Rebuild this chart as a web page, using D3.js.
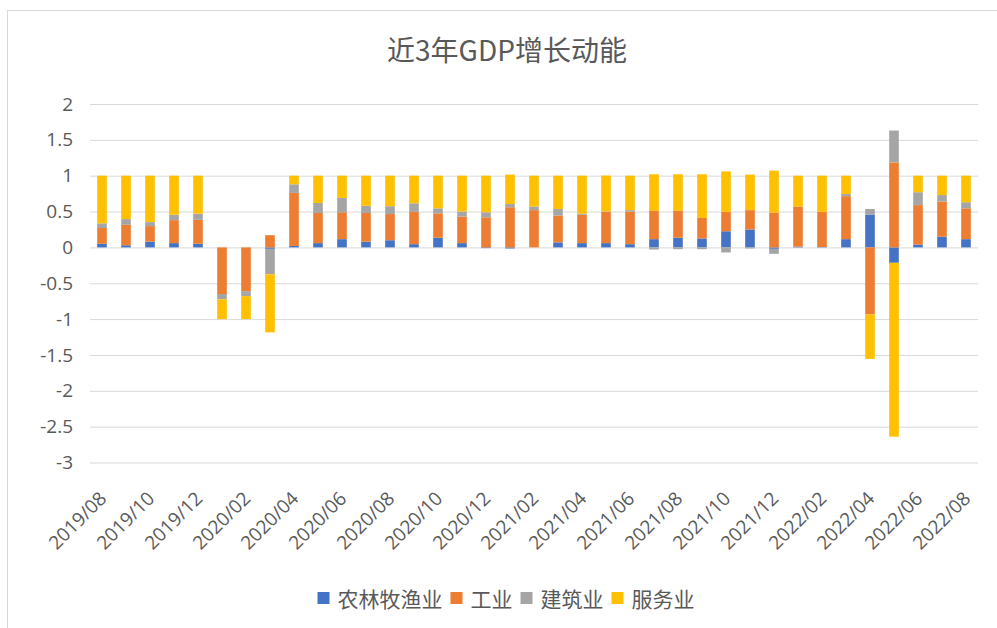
<html>
<head>
<meta charset="utf-8">
<style>
    body { margin: 0; background: #fff; }
    svg { display: block; }
</style>
</head>
<body>
<script src="https://d3js.org/d3.v7.min.js"></script>
<script>
    // months shown on the chart
    const months = ["2019/08","2019/09","2019/10","2019/11","2019/12","2020/01","2020/02","2020/03",
        "2020/04","2020/05","2020/06","2020/07","2020/08","2020/09","2020/10","2020/11","2020/12",
        "2021/01","2021/02","2021/03","2021/04","2021/05","2021/06","2021/07","2021/08","2021/09",
        "2021/10","2021/11","2021/12","2022/01","2022/02","2022/03","2022/04","2022/05","2022/06",
        "2022/07","2022/08"];

    const seriesNames = ["农林牧渔业", "工业", "建筑业", "服务业"];

    const agri = [0.05,0.03,0.08,0.06,0.05,0,0,-0.02,
        0.02,0.06,0.115,0.08,0.10,0.045,0.135,0.06,-0.01,
        -0.015,0,0.07,0.06,0.06,0.045,0.115,0.135,0.125,
        0.225,0.25,-0.02,0.01,0.005,0.115,0.455,-0.215,0.04,
        0.15,0.115];
    const industry = [0.22,0.285,0.217,0.32,0.335,-0.65,-0.61,0.17,
        0.74,0.42,0.375,0.40,0.365,0.45,0.34,0.37,0.42,
        0.56,0.52,0.375,0.395,0.437,0.455,0.395,0.375,0.285,
        0.27,0.27,0.485,0.56,0.49,0.60,-0.935,1.185,0.55,
        0.49,0.43];
    const construction = [0.065,0.08,0.056,0.075,0.085,-0.075,-0.07,-0.355,
        0.12,0.14,0.2,0.10,0.11,0.12,0.07,0.07,0.07,
        0.045,0.05,0.09,0.015,0.005,0.02,-0.03,-0.025,-0.025,
        -0.07,-0.015,-0.07,0,0,0.03,0.08,0.445,0.18,
        0.09,0.085];
    const services = [0.665,0.605,0.647,0.545,0.53,-0.275,-0.32,-0.81,
        0.12,0.38,0.31,0.42,0.425,0.385,0.455,0.50,0.51,
        0.41,0.43,0.465,0.53,0.50,0.48,0.51,0.51,0.61,
        0.565,0.495,0.585,0.43,0.505,0.255,-0.62,-2.425,0.23,
        0.27,0.37];

    const yTicks = [2, 1.5, 1, 0.5, 0, -0.5, -1, -1.5, -2, -2.5, -3];

    const colors = ["#4472C4", "#ED7D31", "#A5A5A5", "#FFC000"];

    const width = 997, height = 628;
    const plotLeft = 90, plotRight = 978, plotTop = 104, plotBottom = 462.5;

    const table = months.map((m, i) => ({
        month: m,
        "农林牧渔业": agri[i],
        "工业": industry[i],
        "建筑业": construction[i],
        "服务业": services[i]
    }));

    const svg = d3.select("body").append("svg")
        .attr("width", width)
        .attr("height", height);

    // chart border
    svg.append("rect")
        .attr("x", 7.5).attr("y", 10.5)
        .attr("width", 1100).attr("height", 800)
        .attr("fill", "none")
        .attr("stroke", "#d9d9d9");

    svg.append("text")
        .attr("x", 507).attr("y", 49)
        .attr("text-anchor", "middle")
        .attr("dominant-baseline", "central")
        .attr("font-family", "Noto Sans CJK SC")
        .attr("font-size", 28)
        .attr("fill", "#595959")
        .text("近3年GDP增长动能");

    const x = d3.scaleBand()
        .domain(months)
        .range([plotLeft, plotRight])
        .paddingInner(0.6)
        .paddingOuter(0.3);

    const y = d3.scaleLinear()
        .domain([-3, 2])
        .range([plotBottom, plotTop]);

    // gridlines + y labels (plain hyphen for negatives, like the source)
    const yAxis = d3.axisLeft(y)
        .tickValues(yTicks)
        .tickSize(-(plotRight - plotLeft))
        .tickPadding(17)
        .tickFormat(d => String(d));

    const gy = svg.append("g")
        .attr("transform", "translate(" + plotLeft + ",0)")
        .call(yAxis);
    gy.select(".domain").remove();
    gy.selectAll(".tick line").attr("stroke", "#d9d9d9");
    gy.selectAll(".tick text")
        .attr("fill", "#595959")
        .attr("font-family", "Open Sans")
        .attr("font-size", 19);

    // stacked bars
    const stack = d3.stack()
        .keys(seriesNames)
        .offset(d3.stackOffsetDiverging);
    const layers = stack(table);

    svg.append("g")
        .selectAll("g")
        .data(layers)
        .join("g")
        .attr("fill", (d, i) => colors[i])
        .selectAll("rect")
        .data(d => d)
        .join("rect")
        .attr("x", d => x(d.data.month))
        .attr("width", x.bandwidth())
        .attr("y", d => y(Math.max(d[0], d[1])))
        .attr("height", d => Math.abs(y(d[0]) - y(d[1])));

    // x labels every 2 months
    const xAxis = d3.axisBottom(x)
        .tickValues(months.filter((m, i) => i % 2 === 0))
        .tickSize(0)
        .tickPadding(0);

    const gx = svg.append("g")
        .attr("transform", "translate(0,495)")
        .call(xAxis);
    gx.select(".domain").remove();
    gx.selectAll(".tick text")
        .attr("fill", "#595959")
        .attr("font-family", "Open Sans")
        .attr("font-size", 19)
        .attr("text-anchor", "end")
        .attr("y", 0)
        .attr("dy", "0.35em")
        .attr("transform", "translate(1,0) rotate(-45)");

    // legend
    const legend = svg.append("g");
    const items = legend.selectAll("g")
        .data(seriesNames)
        .join("g");
    items.append("rect")
        .attr("width", 12).attr("height", 12)
        .attr("y", 592)
        .attr("fill", (d, i) => colors[i]);
    items.append("text")
        .attr("x", 20)
        .attr("y", 598)
        .attr("dominant-baseline", "central")
        .attr("font-family", "Noto Sans CJK SC")
        .attr("font-size", 21)
        .attr("fill", "#595959")
        .text(d => d);

    let pos = 0;
    const offsets = [];
    items.each(function() {
        offsets.push(pos);
        pos += this.getBBox().width + 8;
    });
    const startX = 506 - (pos - 8) / 2;
    items.attr("transform", (d, i) => "translate(" + (startX + offsets[i]) + ",0)");
</script>
</body>
</html>
